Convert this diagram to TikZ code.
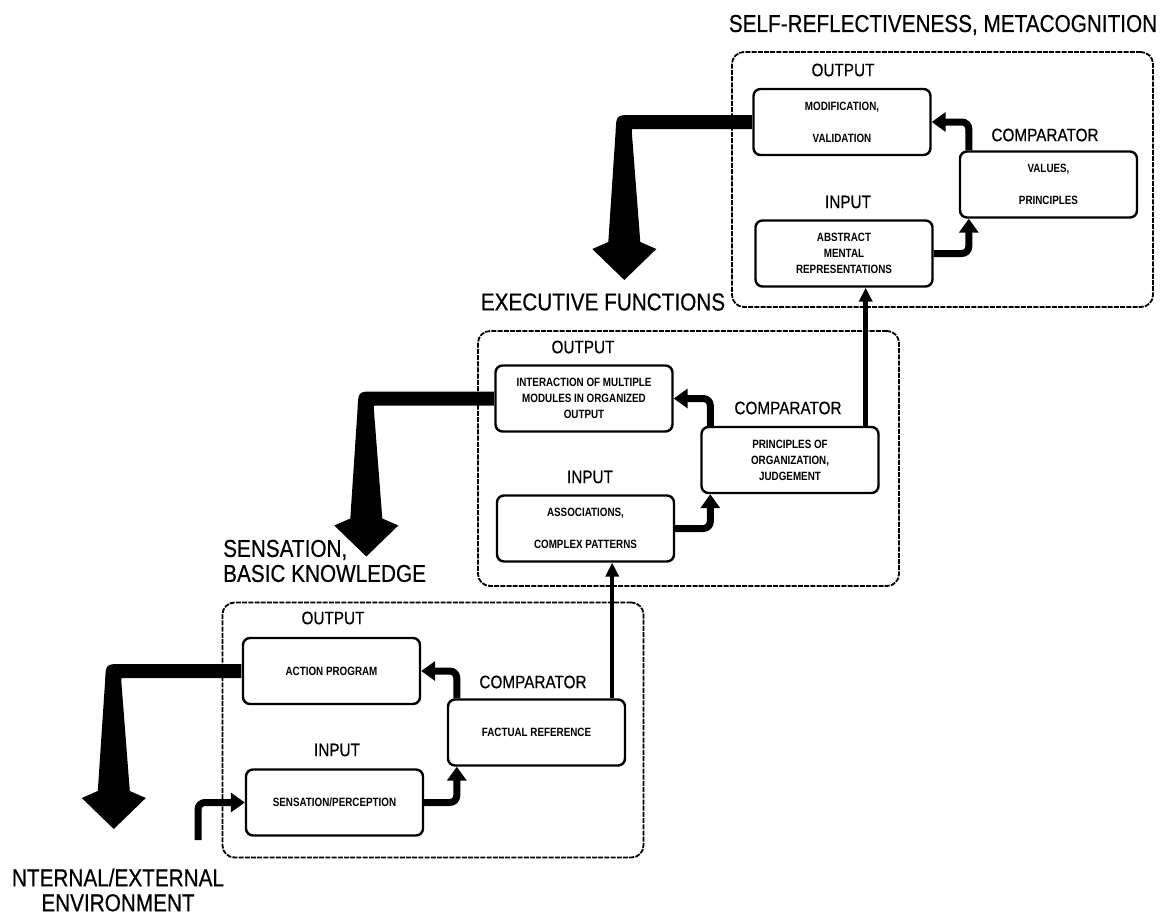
\documentclass[tikz,border=0pt]{standalone}
\usepackage{fontspec}
\setmainfont{Liberation Sans}
\newfontfamily\condf[FakeStretch=0.85,FakeBold=0.5]{Liberation Sans}
\newfontfamily\condb[FakeStretch=0.82]{Liberation Sans}
\usetikzlibrary{arrows.meta,calc}
\newcommand\BigArr[1]{%
  \fill ($(#1.west)+(-0.5,-7)$) -- ($(#1.west)+(-120,-7)$)
    .. controls ($(#1.west)+(-136,-7)$) .. ($(#1.west)+(-136.7,10)$)
    -- ($(#1.west)+(-144,120)$) -- ($(#1.west)+(-160,127)$)
    -- ($(#1.west)+(-128,158)$)
    -- ($(#1.west)+(-96,127)$) -- ($(#1.west)+(-112,120)$)
    -- ($(#1.west)+(-120.5,10)$)
    .. controls ($(#1.west)+(-121,7)$) .. ($(#1.west)+(-118,7)$)
    -- ($(#1.west)+(-0.5,7)$) -- cycle;}
\begin{document}
\begin{tikzpicture}[x=1pt,y=-1pt,
  panel/.style={draw, line width=1.8pt, dash pattern=on 5pt off 1.2pt, rounded corners=12pt, minimum width=421pt, minimum height=255pt, inner sep=0pt},
  box/.style={draw, fill=white, line width=2.4pt, rounded corners=7pt, minimum width=177pt, minimum height=66pt, align=center, font=\condb\bfseries\fontsize{12}{16}\selectfont, inner sep=0pt},
  lab/.style={font=\condf\fontsize{18}{20}\selectfont, inner sep=0pt},
  ttl/.style={font=\condf\fontsize{24.4}{25}\selectfont, inner sep=0pt, align=center},
  fat/.style={line width=7pt, rounded corners=7pt, -{Triangle[width=19pt,length=14pt]}},
  vup/.style={line width=4.5pt, -{Triangle[width=13pt,length=14pt]}},
]
\useasboundingbox (0,0) rectangle (1171,916);

% panels
\node[panel] (p3) at (942.5,179.5) {};
\node[panel] (p2) at (688.5,458.5) {};
\node[panel] (p1) at (433,730) {};

% titles
\node[ttl] (t3) at (943,25) {SELF-REFLECTIVENESS, METACOGNITION};
\node[ttl] (t2) at (603,302) {EXECUTIVE FUNCTIONS};
\node[ttl, align=left, anchor=west] (t1) at (223,561) {SENSATION,\\BASIC KNOWLEDGE};
\node[ttl] (t0) at (118,890) {NTERNAL/EXTERNAL\\ENVIRONMENT};

% labels
\node[lab] (lo3) at (843,70) {OUTPUT};
\node[lab] (lc3) at (1045,135) {COMPARATOR};
\node[lab] (li3) at (848,202) {INPUT};
\node[lab] (lo2) at (583,347) {OUTPUT};
\node[lab] (lc2) at (788,408) {COMPARATOR};
\node[lab] (li2) at (590,477) {INPUT};
\node[lab] (lo1) at (333,618) {OUTPUT};
\node[lab] (lc1) at (533,682) {COMPARATOR};
\node[lab] (li1) at (337,750) {INPUT};

% boxes
\node[box] (o3) at (842,122) {MODIFICATION,\\[16pt]VALIDATION};
\node[box] (c3) at (1048.5,184.5) {VALUES,\\[16pt]PRINCIPLES};
\node[box] (i3) at (844,253.5) {ABSTRACT\\MENTAL\\REPRESENTATIONS};

\node[box] (o2) at (584,398.5) {INTERACTION OF MULTIPLE\\MODULES IN ORGANIZED\\OUTPUT};
\node[box] (c2) at (790,460) {PRINCIPLES OF\\ORGANIZATION,\\JUDGEMENT};
\node[box] (i2) at (585.5,528.5) {ASSOCIATIONS,\\[16pt]COMPLEX PATTERNS};

\node[box] (o1) at (331.5,671) {ACTION PROGRAM};
\node[box] (c1) at (536.5,732.5) {FACTUAL REFERENCE};
\node[box] (i1) at (334.5,802.5) {SENSATION/PERCEPTION};

% big output arrows
\BigArr{o3}
\BigArr{o2}
\BigArr{o1}

% inner arrows
\foreach \n in {1,2,3}{
  \coordinate (kb\n) at ($(c\n.south west)+(10,0)$);
  \coordinate (kt\n) at ($(c\n.north west)+(10,0)$);
  \draw[fat] (i\n.east) -| (kb\n);
  \draw[fat] (kt\n) |- (o\n.east);
}

% environment input
\coordinate (env) at (198,840);
\draw[fat] (env) |- (i1.west);

% upward connectors between levels
\coordinate (u1) at ($(c1.north east)+(-14,0)$);
\draw[vup] (u1) -- (u1 |- i2.south);
\coordinate (u2) at ($(c2.north east)+(-14,0)$);
\draw[vup] (u2) -- (u2 |- i3.south);
\end{tikzpicture}
\end{document}
